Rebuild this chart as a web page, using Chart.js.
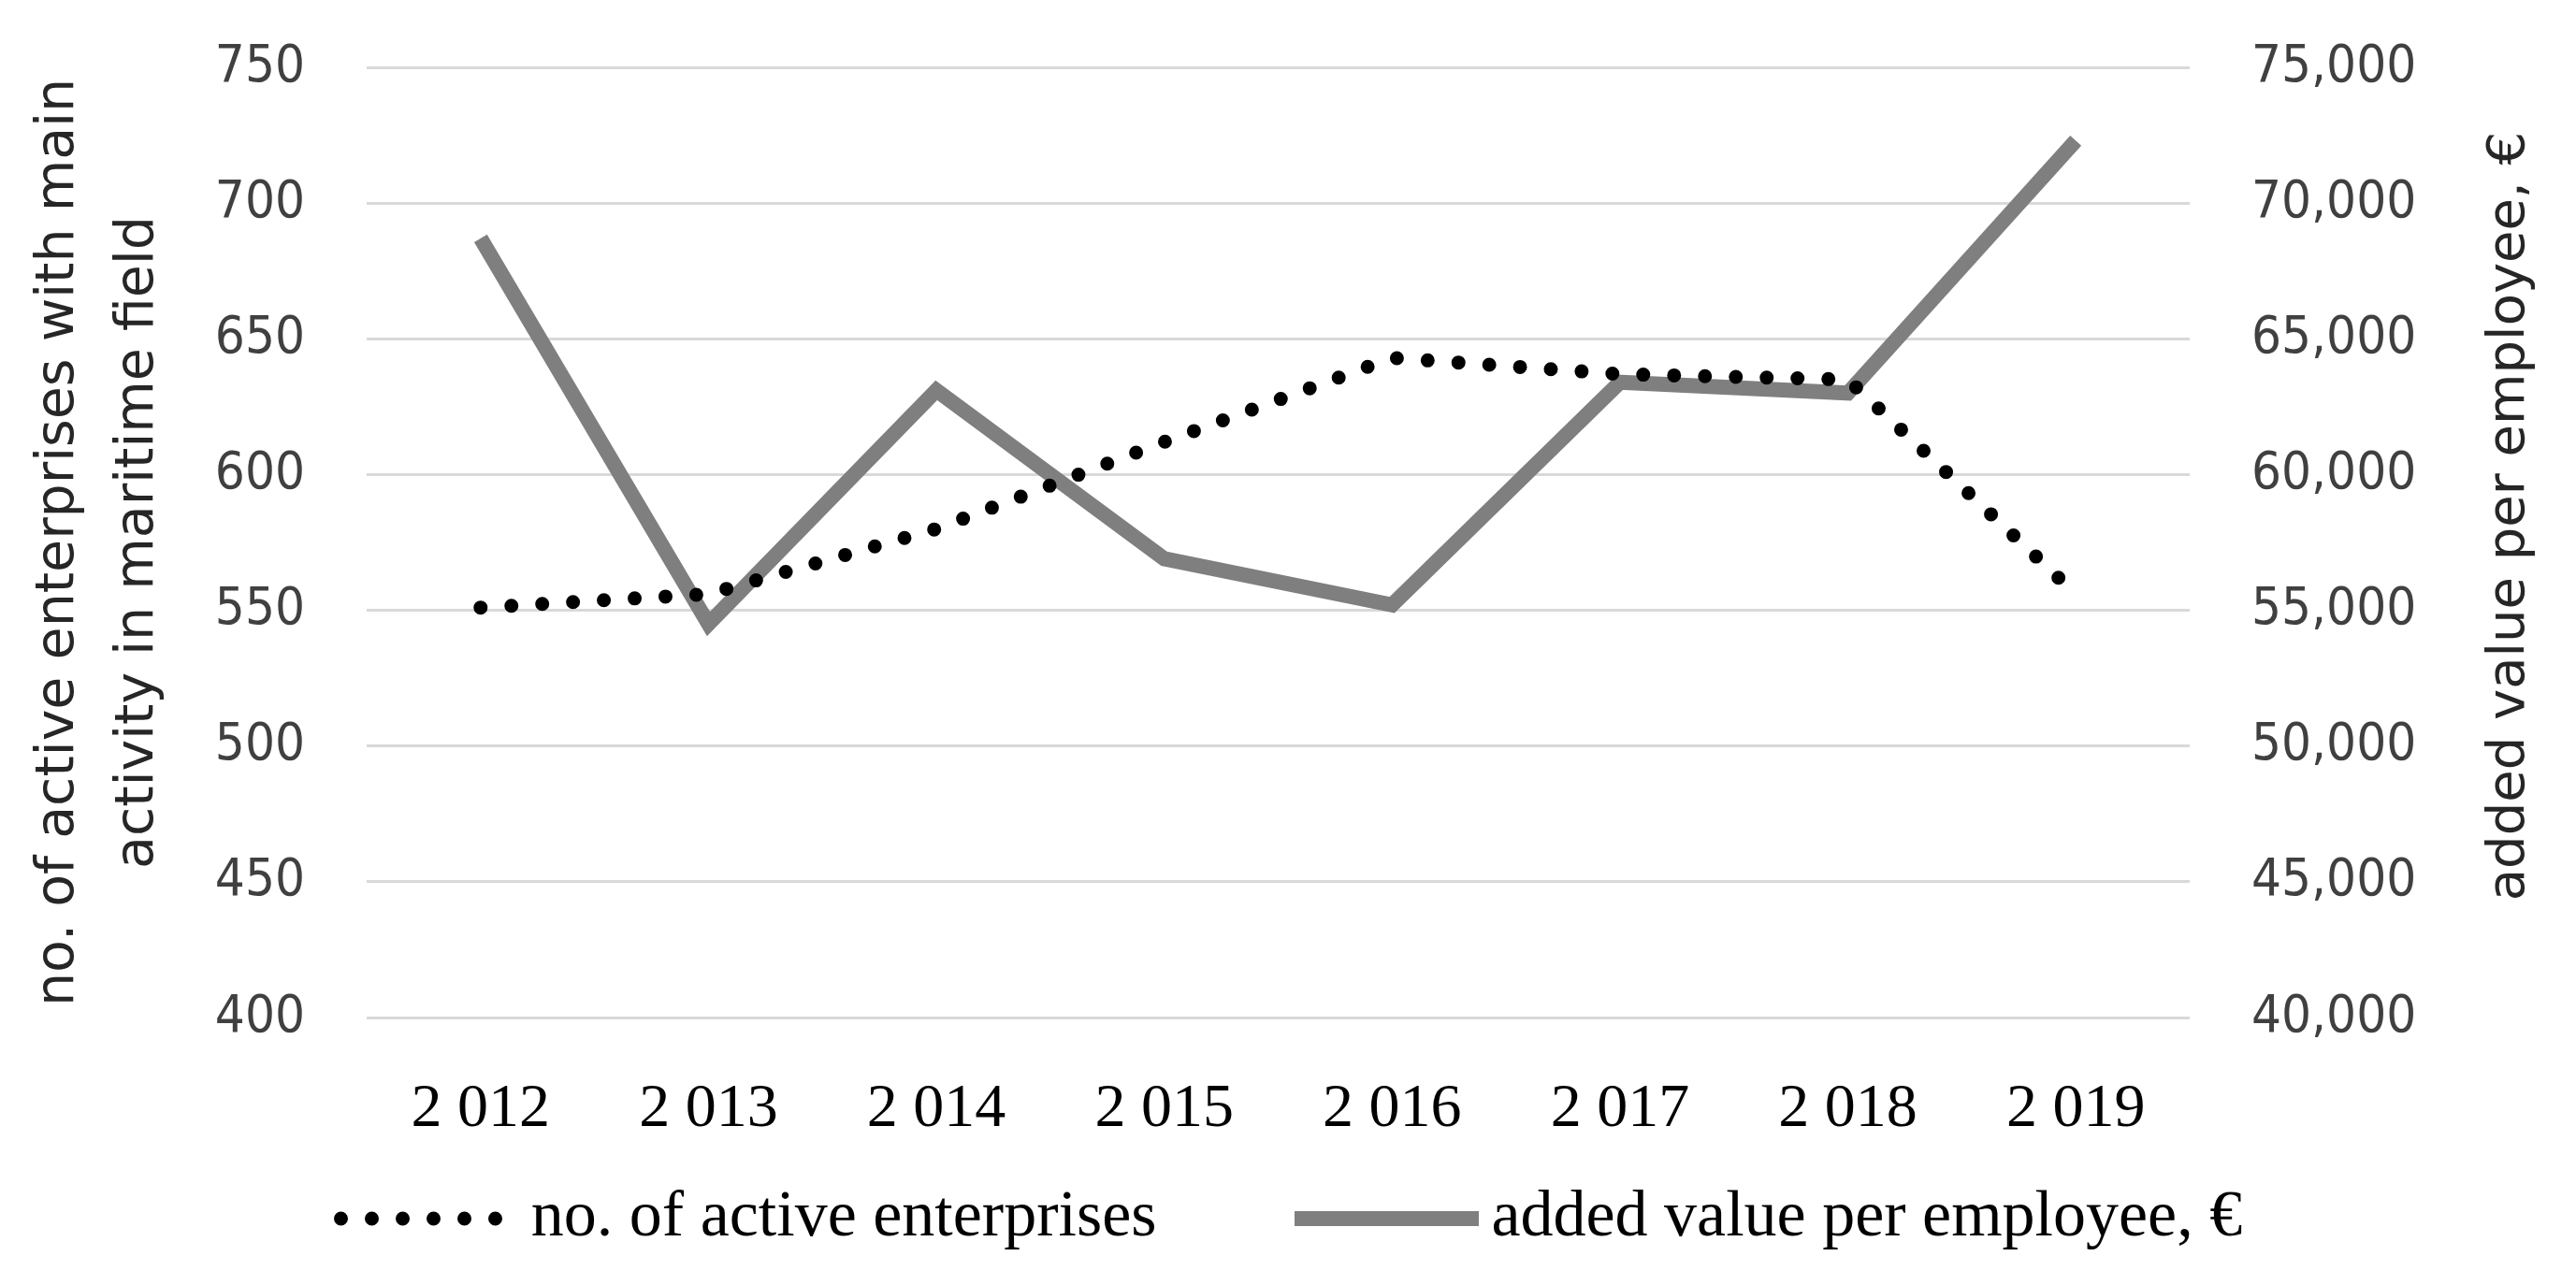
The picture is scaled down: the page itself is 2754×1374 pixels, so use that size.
<!DOCTYPE html>
<html>
<head>
<meta charset="utf-8">
<script src="https://cdn.jsdelivr.net/npm/chart.js@4.4.1/dist/chart.umd.min.js"></script>
<style>
    html, body { margin: 0; padding: 0; background: #ffffff; }
    #wrap { position: relative; width: 2754px; height: 1374px; }
    #chartLegend {
        position: absolute; left: 0; top: 1263px; width: 2754px; height: 80px;
        display: flex; justify-content: center; align-items: center; gap: 148px;
        font-family: "Liberation Serif", "DejaVu Serif", serif; font-size: 70px; color: #000;
    }
    .legend-item { display: flex; align-items: center; }
    .legend-item span { line-height: 70px; position: relative; top: -5px; white-space: nowrap; }
</style>
</head>
<body>
<div id="wrap">
    <canvas id="maritimeChart"></canvas>
    <div id="chartLegend"></div>
</div>
<script>
const years = ['2 012', '2 013', '2 014', '2 015', '2 016', '2 017', '2 018', '2 019'];
const activeEnterprises = [551, 556, 580, 612, 643, 637, 635, 556];
const addedValuePerEmployee = [68700, 54500, 63100, 56900, 55200, 63400, 63000, 72300];

const leftTicks = { min: 400, max: 750, step: 50 };
const rightTicks = { min: 40000, max: 75000, step: 5000 };

const seriesNames = ['no. of active enterprises', 'added value per employee, \u20ac'];
const leftTitle = ['no. of active enterprises with main', 'activity in maritime field'];
const rightTitle = 'added value per employee, \u20ac';

const sansTicks = '"DejaVu Sans Condensed", "DejaVu Sans", sans-serif';
const sansTitle = '"DejaVu Sans", sans-serif';
const serif = '"Liberation Serif", "DejaVu Serif", serif';

// right axis title reads bottom-to-top like the left one, so draw it ourselves
const rightTitlePlugin = {
    id: 'rightTitle',
    afterDraw(chart) {
        const ctx = chart.ctx;
        const area = chart.chartArea;
        const scale = chart.scales.y1;
        ctx.save();
        ctx.translate(scale.right - 71, (area.top + area.bottom) / 2 - 28);
        ctx.rotate(-Math.PI / 2);
        ctx.font = '56px ' + sansTitle;
        ctx.fillStyle = '#262626';
        ctx.textAlign = 'center';
        ctx.textBaseline = 'middle';
        ctx.fillText(rightTitle, 0, 0);
        ctx.restore();
    }
};

const ctx = document.getElementById('maritimeChart').getContext('2d');
const chart = new Chart(ctx, {
    type: 'line',
    data: {
        labels: years,
        datasets: [{
            label: seriesNames[0],
            data: activeEnterprises,
            yAxisID: 'y',
            borderColor: '#000000',
            backgroundColor: '#000000',
            borderWidth: 15,
            borderDash: [0, 33],
            borderCapStyle: 'round',
            pointRadius: 0,
            tension: 0,
            fill: false
        }, {
            label: seriesNames[1],
            data: addedValuePerEmployee,
            yAxisID: 'y1',
            borderColor: '#7f7f7f',
            backgroundColor: '#7f7f7f',
            borderWidth: 16,
            borderCapStyle: 'butt',
            borderJoinStyle: 'miter',
            pointRadius: 0,
            tension: 0,
            fill: false
        }]
    },
    options: {
        responsive: true,
        maintainAspectRatio: false,
        animation: false,
        devicePixelRatio: 1,
        layout: { padding: { left: 0, right: 0, top: 72, bottom: 136 } },
        plugins: {
            legend: { display: false },
            tooltip: { enabled: false }
        },
        scales: {
            x: {
                offset: true,
                grid: { display: false },
                border: { display: false },
                ticks: {
                    font: { family: serif, size: 66 },
                    color: '#000000',
                    padding: 51,
                    maxRotation: 0,
                    autoSkip: false
                },
                afterFit(scale) { scale.height = 150; }
            },
            y: {
                position: 'left',
                min: leftTicks.min,
                max: leftTicks.max,
                // the gap between labels and plot comes from an invisible tick mark,
                // ticks.padding would also push the plot area down
                grid: { color: '#d9d9d9', lineWidth: 3, drawTicks: true, tickLength: 66, tickColor: 'rgba(0,0,0,0)' },
                border: { display: false },
                ticks: {
                    stepSize: leftTicks.step,
                    font: { family: sansTicks, size: 56 },
                    color: '#404040',
                    padding: 0
                },
                title: {
                    display: true,
                    text: leftTitle,
                    font: { family: sansTitle, size: 57, lineHeight: 85 / 57 },
                    color: '#262626',
                    padding: { top: 21, bottom: 0 }
                },
                afterFit(scale) { scale.width = 392; }
            },
            y1: {
                position: 'right',
                min: rightTicks.min,
                max: rightTicks.max,
                grid: { drawOnChartArea: false, drawTicks: true, tickLength: 66, tickColor: 'rgba(0,0,0,0)' },
                border: { display: false },
                ticks: {
                    stepSize: rightTicks.step,
                    font: { family: sansTicks, size: 56 },
                    color: '#404040',
                    padding: 0,
                    callback: value => value.toLocaleString('en-US')
                },
                afterFit(scale) { scale.width = 413; }
            }
        }
    },
    plugins: [rightTitlePlugin]
});

function buildLegend(chart) {
    const legend = document.getElementById('chartLegend');
    legend.innerHTML = '';
    chart.data.datasets.forEach((ds, index) => {
        const item = document.createElement('div');
        item.className = 'legend-item';

        const dotted = ds.borderDash && ds.borderDash.length;
        const marker = document.createElement('canvas');
        marker.width = dotted ? 180 : 197;
        marker.height = 24;
        marker.style.marginRight = dotted ? '31px' : '13px';
        const m = marker.getContext('2d');
        m.strokeStyle = ds.borderColor;
        m.lineWidth = ds.borderWidth;
        m.lineCap = ds.borderCapStyle;
        m.setLineDash(ds.borderDash || []);
        m.beginPath();
        const start = dotted ? ds.borderWidth / 2 : 0;
        m.moveTo(start, 12);
        m.lineTo(marker.width, 12);
        m.stroke();

        const text = document.createElement('span');
        text.textContent = ds.label;

        item.appendChild(marker);
        item.appendChild(text);
        legend.appendChild(item);
    });
}

buildLegend(chart);
</script>
</body>
</html>
